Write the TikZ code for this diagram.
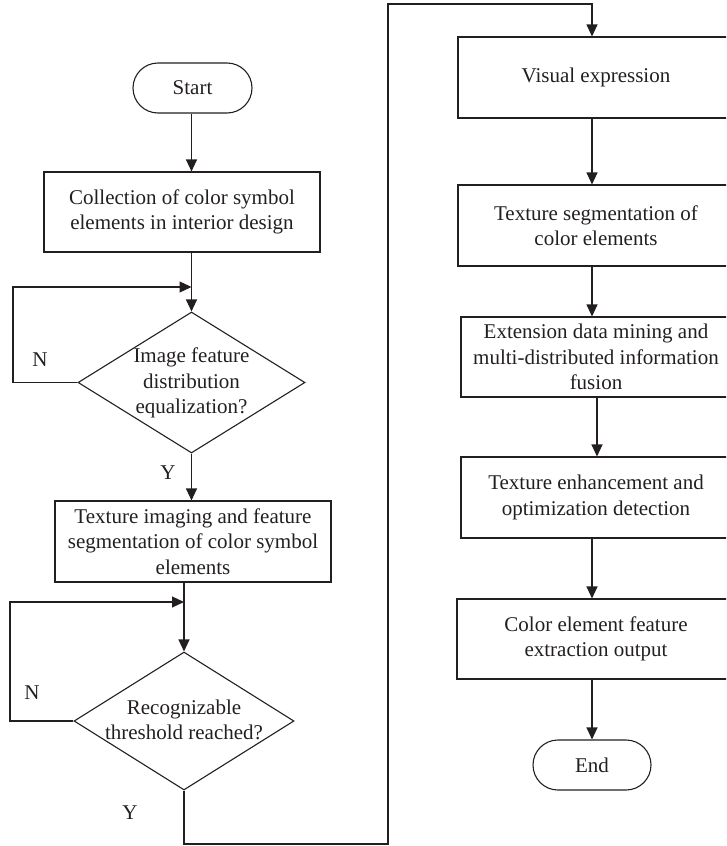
\documentclass[tikz,border=0pt]{standalone}
\usepackage{fontspec}
\setmainfont{Liberation Serif}
\usetikzlibrary{arrows.meta,shapes.geometric,shapes.misc}
\definecolor{ink}{HTML}{231F20}
\tikzset{
  every node/.style={font=\fontsize{21}{25.5}\selectfont, text=ink},
  proc/.style={draw=ink, line width=1.1pt, rectangle, align=center, inner sep=0pt},
  term/.style={draw=ink, line width=1.1pt, rounded rectangle, minimum width=119pt, minimum height=50pt, inner sep=0pt},
  dec/.style={draw=ink, line width=1.1pt, diamond, inner sep=0pt},
  lbl/.style={inner sep=0pt},
  conn/.style={draw=ink, line width=1.1pt},
  arr/.style={conn, -{Triangle[length=12pt,width=11pt]}},
}
\begin{document}
\begin{tikzpicture}[x=1pt,y=-1pt]
\useasboundingbox (0,0) rectangle (726,846);
\clip (0,0) rectangle (726,846);
% left column
\node[term] (start) at (192.5,88) {Start};
\node[proc, minimum width=276pt, minimum height=80pt] (b1) at (182,212) {Collection of color symbol\\elements in interior design};
\node[dec, minimum width=227pt, minimum height=141pt] (d1) at (191.5,382.5) {};
\node[lbl, align=center] (d1t) at (191.5,383) {Image feature\\distribution\\equalization?};
\node[proc, minimum width=276pt, minimum height=81pt] (b2) at (193,541.5) {Texture imaging and feature\\segmentation of color symbol\\elements};
\node[dec, minimum width=220pt, minimum height=138pt] (d2) at (184,721) {};
\node[lbl, align=center] (d2t) at (184,720) {Recognizable\\threshold reached?};
\node[lbl] (n1) at (40,360) {N};
\node[lbl] (y1) at (168,473) {Y};
\node[lbl] (n2) at (32,693) {N};
\node[lbl] (y2) at (130,813) {Y};
% right column
\node[proc, minimum width=276pt, minimum height=81pt] (r1) at (596,77.5) {Visual expression};
\node[proc, minimum width=276pt, minimum height=81pt] (r2) at (596,225.5) {Texture segmentation of\\color elements};
\node[proc, minimum width=270pt, minimum height=80pt] (r3) at (596,357) {Extension data mining and\\multi-distributed information\\fusion};
\node[proc, minimum width=270pt, minimum height=81pt] (r4) at (596,497.5) {Texture enhancement and\\optimization detection};
\node[proc, minimum width=278pt, minimum height=80pt] (r5) at (596,639) {Color element feature\\extraction output};
\node[term, minimum width=118pt] (end) at (592,765) {End};
% coordinates
\coordinate (l1a) at (13,287);
\coordinate (l1b) at (191.5,287);
\coordinate (l2a) at (10,602);
\coordinate (l2b) at (184,602);
\coordinate (yb) at (184,844);
\coordinate (yc) at (388,844);
\coordinate (yd) at (388,4);
\coordinate (ye) at (592,4);
% connectors
\draw[arr] (start.south -| d1.north) -- (d1.north |- b1.north);
\draw[arr] (b1.south -| d1.north) -- (d1.north);
\draw[arr] (d1.west) -| (l1a) -- (l1b);
\draw[arr] (d1.south) -- (d1.south |- b2.north);
\draw[arr] (b2.south -| d2.north) -- (d2.north);
\draw[arr] (d2.west) -| (l2a) -- (l2b);
\draw[arr] (d2.south) -- (yb) -- (yc) -- (yd) -- (ye) -- (ye |- r1.north);
\draw[arr] (r1.south -| ye) -- (ye |- r2.north);
\draw[arr] (r2.south -| ye) -- (ye |- r3.north);
\draw[arr] ([xshift=1pt]r3.south) -- ([xshift=1pt]r3.south |- r4.north);
\draw[arr] (r4.south -| ye) -- (ye |- r5.north);
\draw[arr] (r5.south -| end.north) -- (end.north);
\end{tikzpicture}
\end{document}
